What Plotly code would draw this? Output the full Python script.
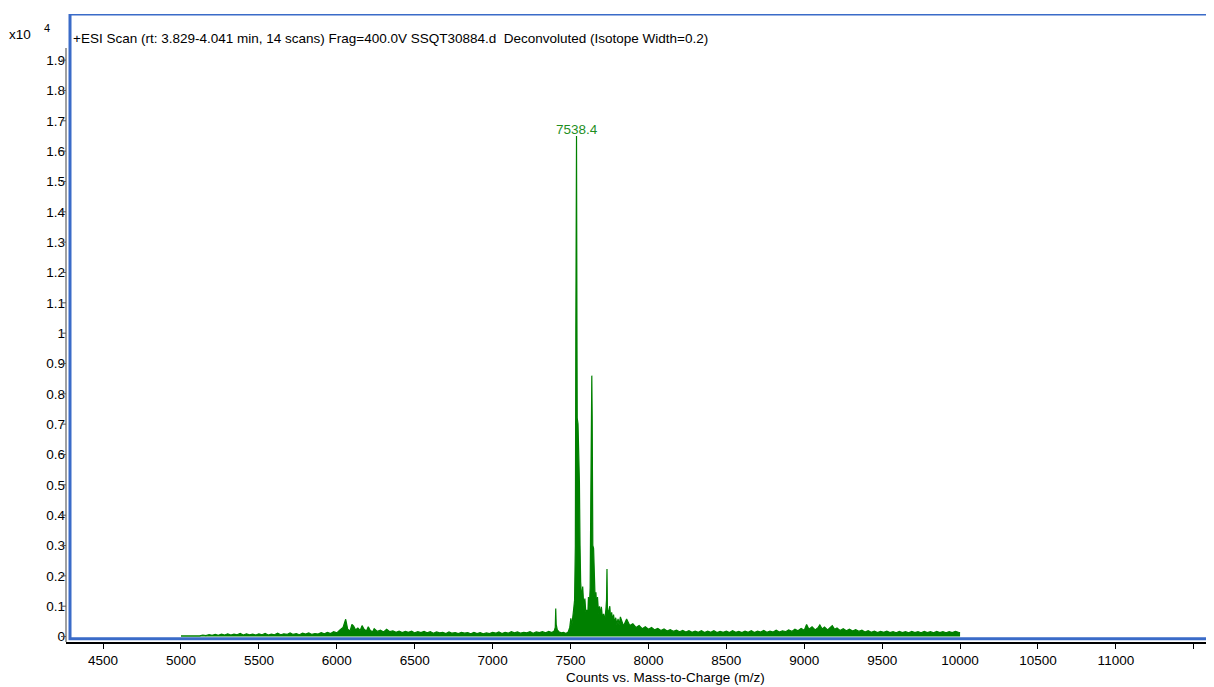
import plotly.graph_objects as go

# ---- data (intensity in units of 10^4 counts) ----
mz_low = [5000, 5020, 5040, 5060, 5080, 5100, 5120, 5140, 5160, 5180, 5200, 5220, 5240, 5260, 5280,
          5300, 5320, 5340, 5360, 5380, 5400, 5420, 5440, 5460, 5480, 5500, 5520, 5540, 5560, 5580,
          5600, 5620, 5640, 5660, 5680, 5700, 5720, 5740, 5760, 5780, 5800, 5820, 5840, 5860, 5880,
          5900, 5920, 5940, 5960, 5980, 6000, 6020, 6040, 6057, 6070, 6085, 6097, 6108, 6120, 6135,
          6150, 6162, 6175, 6190, 6202, 6215, 6230, 6240, 6260, 6280, 6300, 6320, 6340, 6360, 6380,
          6400, 6420, 6440, 6460, 6480, 6500, 6520, 6540, 6560, 6580, 6600, 6620, 6640, 6660, 6680,
          6700, 6720, 6740, 6760, 6780, 6800, 6820, 6840, 6860, 6880, 6900, 6920, 6940, 6960, 6980,
          7000, 7020, 7040, 7060, 7080, 7100, 7120, 7140, 7160, 7180, 7200, 7220, 7240, 7260, 7280,
          7300, 7320, 7340, 7360, 7380]
int_low = [0.002, 0.002, 0.002, 0.003, 0.002, 0.003, 0.002, 0.005, 0.003, 0.006, 0.004, 0.007, 0.004, 0.008, 0.005,
           0.009, 0.005, 0.008, 0.006, 0.010, 0.005, 0.009, 0.006, 0.008, 0.005, 0.009, 0.006, 0.010, 0.005, 0.008,
           0.006, 0.011, 0.006, 0.009, 0.007, 0.012, 0.007, 0.010, 0.006, 0.011, 0.008, 0.012, 0.007, 0.010, 0.008,
           0.013, 0.009, 0.014, 0.010, 0.016, 0.012, 0.022, 0.030, 0.057, 0.024, 0.018, 0.040, 0.034, 0.022, 0.028,
           0.020, 0.036, 0.024, 0.018, 0.032, 0.020, 0.016, 0.026, 0.017, 0.021, 0.015, 0.024, 0.016, 0.019, 0.014,
           0.018, 0.013, 0.017, 0.014, 0.018, 0.012, 0.016, 0.013, 0.017, 0.012, 0.016, 0.011, 0.015, 0.012, 0.014,
           0.010, 0.015, 0.011, 0.013, 0.010, 0.014, 0.011, 0.013, 0.009, 0.014, 0.010, 0.013, 0.009, 0.012, 0.010,
           0.014, 0.011, 0.015, 0.010, 0.014, 0.011, 0.016, 0.012, 0.015, 0.011, 0.014, 0.012, 0.016, 0.011, 0.015,
           0.013, 0.016, 0.012, 0.017, 0.013]

mz_peak = [7395, 7402, 7405, 7408, 7415, 7425, 7440, 7455, 7470, 7485, 7495, 7502, 7508, 7515, 7520,
           7526, 7531, 7534, 7536, 7538.4, 7541, 7543, 7548, 7553, 7557, 7561, 7565, 7572, 7578, 7585,
           7592, 7598, 7604, 7610, 7615, 7620, 7626, 7630, 7633, 7636.5, 7639, 7643, 7648, 7653, 7658,
           7663, 7668, 7673, 7680, 7686, 7692, 7698, 7705, 7712, 7720, 7727, 7731, 7734, 7737, 7745,
           7752, 7758, 7764, 7770, 7776, 7783, 7790, 7797, 7805, 7812, 7820]
int_peak = [0.018, 0.030, 0.092, 0.040, 0.022, 0.016, 0.012, 0.014, 0.010, 0.015, 0.030, 0.060, 0.035, 0.085, 0.090,
            0.120, 0.300, 1.020, 1.380, 1.650, 1.050, 0.720, 0.700, 0.620, 0.510, 0.300, 0.180, 0.120, 0.165, 0.100,
            0.125, 0.080, 0.088, 0.060, 0.130, 0.090, 0.160, 0.450, 0.720, 0.860, 0.720, 0.300, 0.290, 0.200, 0.120,
            0.146, 0.090, 0.130, 0.075, 0.100, 0.070, 0.098, 0.060, 0.075, 0.055, 0.090, 0.120, 0.223, 0.080, 0.085,
            0.100, 0.055, 0.080, 0.050, 0.072, 0.045, 0.062, 0.040, 0.058, 0.038, 0.065]

mz_high = [7840, 7860, 7880, 7900, 7920, 7940, 7960, 7980, 8000, 8020, 8040, 8060, 8080, 8100, 8120,
           8140, 8160, 8180, 8200, 8220, 8240, 8260, 8280, 8300, 8320, 8340, 8360, 8380, 8400, 8420,
           8440, 8460, 8480, 8500, 8520, 8540, 8560, 8580, 8600, 8620, 8640, 8660, 8680, 8700, 8720,
           8740, 8760, 8780, 8800, 8820, 8840, 8860, 8880, 8900, 8920, 8940, 8960, 8980, 9000, 9015,
           9030, 9050, 9070, 9090, 9100, 9115, 9130, 9150, 9165, 9180, 9195, 9210, 9230, 9250, 9270,
           9290, 9310, 9330, 9350, 9370, 9390, 9410, 9430, 9450, 9470, 9490, 9510, 9530, 9550, 9570,
           9590, 9610, 9630, 9650, 9670, 9690, 9710, 9730, 9750, 9770, 9790, 9810, 9830, 9850, 9870,
           9890, 9910, 9930, 9950, 9970, 9990, 10000]
int_high = [0.035, 0.058, 0.036, 0.042, 0.030, 0.036, 0.026, 0.032, 0.024, 0.030, 0.022, 0.027, 0.020, 0.025, 0.018,
            0.023, 0.017, 0.021, 0.016, 0.020, 0.015, 0.019, 0.014, 0.018, 0.014, 0.019, 0.013, 0.018, 0.014, 0.019,
            0.013, 0.017, 0.014, 0.018, 0.013, 0.019, 0.014, 0.017, 0.013, 0.018, 0.014, 0.019, 0.013, 0.018, 0.015,
            0.020, 0.014, 0.018, 0.015, 0.021, 0.015, 0.019, 0.016, 0.022, 0.017, 0.024, 0.019, 0.027, 0.021, 0.040,
            0.024, 0.032, 0.022, 0.030, 0.038, 0.025, 0.031, 0.022, 0.029, 0.036, 0.024, 0.028, 0.020, 0.026, 0.019,
            0.024, 0.018, 0.023, 0.017, 0.021, 0.015, 0.019, 0.014, 0.018, 0.013, 0.017, 0.014, 0.018, 0.013, 0.016,
            0.012, 0.017, 0.013, 0.016, 0.012, 0.017, 0.013, 0.016, 0.012, 0.017, 0.013, 0.016, 0.012, 0.017, 0.013,
            0.016, 0.012, 0.016, 0.013, 0.017, 0.014, 0.013]

x_tickvals = [4500, 5000, 5500, 6000, 6500, 7000, 7500, 8000, 8500, 9000, 9500, 10000, 10500, 11000, 11500]
x_ticktext = ["4500", "5000", "5500", "6000", "6500", "7000", "7500", "8000", "8500", "9000", "9500",
              "10000", "10500", "11000", ""]
y_tickvals = [0, 0.1, 0.2, 0.3, 0.4, 0.5, 0.6, 0.7, 0.8, 0.9, 1.0, 1.1, 1.2, 1.3, 1.4, 1.5, 1.6, 1.7, 1.8, 1.9]
y_ticktext = ["0", "0.1", "0.2", "0.3", "0.4", "0.5", "0.6", "0.7", "0.8", "0.9", "1", "1.1", "1.2", "1.3",
              "1.4", "1.5", "1.6", "1.7", "1.8", "1.9"]

peak_mz = 7538.4
peak_int = 1.65
title_text = "+ESI Scan (rt: 3.829-4.041 min, 14 scans) Frag=400.0V SSQT30884.d  Deconvoluted (Isotope Width=0.2)"
x_title = "Counts vs. Mass-to-Charge (m/z)"

mz = mz_low + mz_peak + mz_high
inten = int_low + int_peak + int_high

FONT = "Liberation Sans, Arial, sans-serif"
FS = 13.5
GREEN = "#008000"
BLUE = "#3a6bc8"
PLOT_W = 1144

fig = go.Figure()
fig.add_trace(go.Scatter(
    x=mz, y=inten, mode="lines",
    line=dict(color=GREEN, width=1.2),
    fill="tozeroy", fillcolor=GREEN,
    hoverinfo="x+y", showlegend=False,
))

shapes = [
    dict(type="line", xref="paper", yref="y", x0=0, x1=0, y0=-0.018, y1=1.94,
         line=dict(color="#808080", width=1.5)),
]
# y tick marks crossing into the labels
for v in y_tickvals:
    shapes.append(dict(type="line", xref="paper", yref="y", x0=-5 / PLOT_W, x1=0, y0=v, y1=v,
                       line=dict(color="#555555", width=1)))
shapes.append(dict(type="rect", xref="paper", yref="y", x0=0.0035, x1=0.9995, y0=-0.007, y1=2.052,
                   line=dict(color=BLUE, width=3), fillcolor="rgba(0,0,0,0)", layer="above"))

fig.update_layout(
    width=1206, height=679,
    margin=dict(l=58, r=4, t=6, b=45),
    paper_bgcolor="white", plot_bgcolor="white",
    font=dict(family=FONT, size=FS, color="black"),
    showlegend=False,
    xaxis=dict(
        range=[4262, 11604],
        tickvals=x_tickvals, ticktext=x_ticktext,
        showgrid=False, zeroline=False,
        showline=True, linecolor="black", linewidth=1.5,
        ticks="outside", ticklen=5, tickcolor="black", tickwidth=1,
        tickfont=dict(family=FONT, size=FS, color="black"),
    ),
    yaxis=dict(
        range=[-0.018, 2.052],
        tickvals=y_tickvals, ticktext=y_ticktext,
        showgrid=False, zeroline=False, showline=False,
        ticks="",
        tickfont=dict(family=FONT, size=FS, color="black"),
    ),
    shapes=shapes,
    annotations=[
        dict(text=title_text, xref="paper", yref="paper", x=0.0045, y=1, yshift=-24,
             xanchor="left", yanchor="middle", showarrow=False,
             font=dict(family=FONT, size=FS, color="black")),
        dict(text="x10", xref="paper", yref="paper", x=-0.0288, y=1, yshift=-20,
             xanchor="right", yanchor="middle", showarrow=False,
             font=dict(family=FONT, size=FS, color="black")),
        dict(text="4", xref="paper", yref="paper", x=-0.0166, y=1, yshift=-14,
             xanchor="center", yanchor="middle", showarrow=False,
             font=dict(family=FONT, size=11, color="black")),
        dict(text=str(peak_mz), x=peak_mz, y=peak_int, xref="x", yref="y",
             xanchor="center", yanchor="bottom", showarrow=False, yshift=-3,
             font=dict(family=FONT, size=FS, color="#1f8f1f")),
        dict(text=x_title, xref="paper", yref="paper", x=(665 - 66) / 1144, y=0, yshift=-35,
             xanchor="center", yanchor="middle", showarrow=False,
             font=dict(family=FONT, size=FS, color="black")),
    ],
)

fig.write_html("out.html")
